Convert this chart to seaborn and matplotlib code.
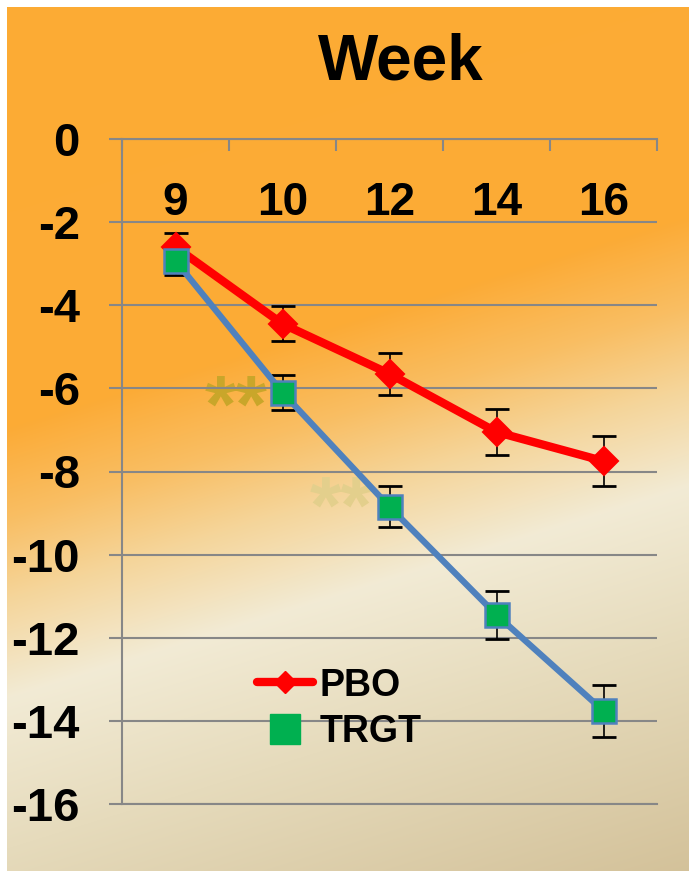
import numpy as np
import pandas as pd
import matplotlib
matplotlib.use("Agg")
import matplotlib.pyplot as plt
import seaborn as sns
from matplotlib.lines import Line2D
from matplotlib.colors import to_rgb
from matplotlib.ticker import FixedLocator

# ---------------- data ----------------
weeks = ["9", "10", "12", "14", "16"]
series_names = ["PBO", "TRGT"]
pbo_mean = [-2.6, -4.45, -5.65, -7.05, -7.75]
pbo_err = [0.35, 0.42, 0.5, 0.55, 0.6]
trgt_mean = [-2.93, -6.1, -8.85, -11.45, -13.76]
trgt_err = [0.35, 0.43, 0.49, 0.57, 0.62]
y_ticks = [0, -2, -4, -6, -8, -10, -12, -14, -16]
y_tick_labels = ["0", "-2", "-4", "-6", "-8", "-10", "-12", "-14", "-16"]
title = "Week"
sig_labels = ["**", "**"]

# ---------------- style ----------------
sns.set_theme(style="white")
plt.rcParams['font.family'] = ['Liberation Sans', 'DejaVu Sans']
plt.rcParams['font.weight'] = 'bold'
plt.rcParams['text.color'] = 'black'

W, H = 689, 874
fig = plt.figure(figsize=(W / 100, H / 100), dpi=100, facecolor='white')

# background gradient (diagonal orange -> cream -> tan)
yy, xx = np.mgrid[0:H, 0:W]
t = yy + 0.31 * xx
stops_t = [0, 430, 520, 600, 700, 850, 1090]
stops_c = ['#fdab34', '#fcab36', '#f9be63', '#f5d59a', '#f2ebd5', '#e6dbbc', '#d3c199']
rgb = np.array([to_rgb(c) for c in stops_c])
img = np.stack([np.interp(t, stops_t, rgb[:, k]) for k in range(3)], axis=-1)
img[:7, :, :] = 1.0
img[:, :7, :] = 1.0
img[871:, :, :] = 1.0
fig.figimage(img, xo=0, yo=0, origin='upper', zorder=-10)

gray = '#878787'
ax = fig.add_axes([122 / W, 1 - 804 / H, (657 - 122) / W, (804 - 139) / H])
ax.set_facecolor('none')

pos = np.arange(len(weeks))
df = pd.DataFrame({
    "pos": np.concatenate([pos, pos]),
    "value": pbo_mean + trgt_mean,
    "err": pbo_err + trgt_err,
    "group": [series_names[0]] * len(weeks) + [series_names[1]] * len(weeks),
})
d_pbo = df[df.group == series_names[0]]
d_trgt = df[df.group == series_names[1]]

# error bars
ax.errorbar(d_pbo["pos"], d_pbo["value"], yerr=d_pbo["err"], fmt='none',
            ecolor='black', elinewidth=1.2, capsize=8.5, capthick=2, zorder=3)
ax.errorbar(d_trgt["pos"], d_trgt["value"], yerr=d_trgt["err"], fmt='none',
            ecolor='black', elinewidth=1.2, capsize=8.5, capthick=2, zorder=3)

sns.lineplot(data=d_pbo, x="pos", y="value", color="red", lw=6, marker="D",
             markersize=14, markeredgecolor="red", markeredgewidth=1.5,
             errorbar=None, ax=ax, zorder=4, legend=False)
sns.lineplot(data=d_trgt, x="pos", y="value", color="#4f81bd", lw=4.5, marker="s",
             markersize=17, markerfacecolor="#00b050", markeredgecolor="#4f81bd",
             markeredgewidth=1.8, errorbar=None, ax=ax, zorder=5, legend=False)

# significance marks
ax.text(0.565, -7.03, sig_labels[0], fontsize=58, color='#c9a62a', ha='center',
        va='baseline', zorder=0.5, fontweight='bold')
ax.text(1.547, -9.48, sig_labels[1], fontsize=58, color='#e3cf8c', ha='center',
        va='baseline', zorder=0.5, fontweight='bold')

# axes
ax.set_xlim(-0.5, len(weeks) - 0.5)
ax.set_ylim(-16, 0)
ax.set_xlabel("")
ax.set_ylabel("")
ax.xaxis.set_major_locator(FixedLocator(pos))
ax.set_xticklabels(weeks)
ax.xaxis.set_minor_locator(FixedLocator(np.arange(-0.5, len(weeks), 1.0)))
ax.tick_params(axis='x', which='major', bottom=False, top=True, labelbottom=False,
               labeltop=True, length=0, pad=-54.7, labelsize=33, labelcolor='black')
ax.tick_params(axis='x', which='minor', bottom=False, top=True, direction='in',
               length=8.6, width=1.5, color=gray)
for tk in ax.xaxis.get_major_ticks():
    tk.label2.set_verticalalignment('baseline')
    tk.label2.set_fontweight('bold')

ax.set_yticks(y_ticks)
ax.set_yticklabels(y_tick_labels, fontweight='bold')
ax.tick_params(axis='y', which='major', left=True, direction='out', length=9.4,
               width=1.5, color=gray, pad=20.9, labelsize=34, labelcolor='black')

ax.grid(True, axis='y', color=gray, lw=1.5)
ax.grid(False, axis='x')
for side in ['top', 'left', 'bottom']:
    ax.spines[side].set_visible(True)
    ax.spines[side].set_color(gray)
    ax.spines[side].set_linewidth(1.5)
ax.spines['right'].set_visible(False)

# legend
h1 = Line2D([], [], color='red', lw=6, marker='D', markersize=11,
            markeredgecolor='red', solid_capstyle='round')
h2 = Line2D([], [], color='none', lw=0, marker='s', markersize=22,
            markerfacecolor='#00b050', markeredgecolor='#00b050')
ax.legend([h1, h2], series_names, loc='center left',
          bbox_to_anchor=(257 / W, 1 - 709 / H), bbox_transform=fig.transFigure,
          frameon=False, prop={'weight': 'bold', 'size': 27}, handlelength=1.5,
          handletextpad=0.16, labelspacing=0.29, borderpad=0, borderaxespad=0)

fig.text(401 / W, 1 - 79 / H, title, ha='center', va='baseline', fontsize=46,
         fontweight='bold')

fig.savefig('out.png', dpi=100, facecolor='white')
